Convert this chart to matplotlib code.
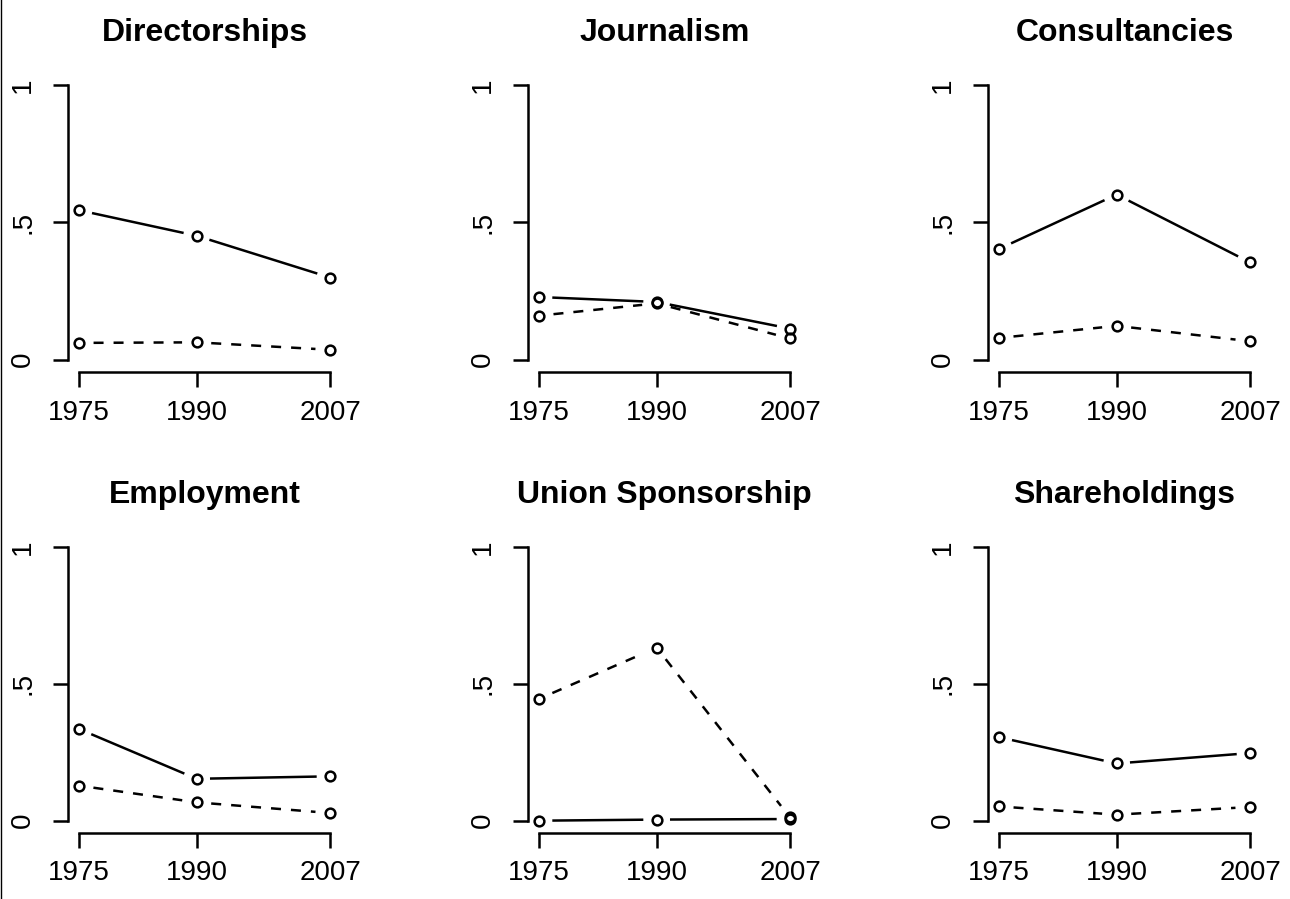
import numpy as np
import matplotlib.pyplot as plt
from matplotlib.lines import Line2D

plt.rcParams['font.family'] = ['Liberation Sans', 'DejaVu Sans']

# data
years = [1975, 1990, 2007]
titles = ["Directorships", "Journalism", "Consultancies",
          "Employment", "Union Sponsorship", "Shareholdings"]
solid = [
    [0.544, 0.451, 0.299],
    [0.228, 0.210, 0.113],
    [0.403, 0.601, 0.354],
    [0.335, 0.153, 0.162],
    [0.000, 0.004, 0.006],
    [0.305, 0.209, 0.247],
]
dashed = [
    [0.061, 0.063, 0.036],
    [0.160, 0.205, 0.077],
    [0.079, 0.123, 0.067],
    [0.128, 0.067, 0.028],
    [0.445, 0.632, 0.012],
    [0.052, 0.022, 0.050],
]
ytick_vals = [0, 0.5, 1]
ytick_labels = ["0", ".5", "1"]

W, H = 1290, 899
fig = plt.figure(figsize=(W / 100, H / 100), dpi=100)

lefts = [68, 528, 988]
rows = [(74, 372), (536, 833)]
GAP_PT = 10.5  # gap left around points like R type="b", in points
LW = 1.8


def gapped(ax, x, y, **kw):
    # draw segments between points, stopping short of each point
    gap = GAP_PT * fig.dpi / 72.0
    pts = ax.transData.transform(np.column_stack([x, y]).astype(float))
    inv = ax.transData.inverted()
    for p0, p1 in zip(pts[:-1], pts[1:]):
        d = p1 - p0
        L = np.hypot(d[0], d[1])
        if L <= 2 * gap:
            continue
        u = d / L
        seg = inv.transform(np.array([p0 + u * gap, p1 - u * gap]))
        ax.plot(seg[:, 0], seg[:, 1], color='black', lw=LW, **kw)


axes = []
for i in range(6):
    r, c = divmod(i, 3)
    top, bot = rows[r]
    ax = fig.add_axes([lefts[c] / W, 1 - bot / H, 273 / W, (bot - top) / H])
    ax.set_xlim(1973.6, 2008.4)
    ax.set_ylim(-0.045, 1.04)
    ax.set_autoscale_on(False)

    for s in ['top', 'right']:
        ax.spines[s].set_visible(False)
    ax.spines['left'].set_bounds(0, 1)
    ax.spines['bottom'].set_bounds(1975, 2007)
    ax.spines['left'].set_linewidth(LW)
    ax.spines['bottom'].set_linewidth(LW)

    ax.set_xticks(years)
    ax.set_xticklabels([str(y) for y in years])
    ax.set_yticks(ytick_vals)
    ax.set_yticklabels(ytick_labels, rotation=90, va='center')
    ax.tick_params(axis='both', length=10.8, width=LW, labelsize=20)
    ax.tick_params(axis='x', pad=9)
    ax.tick_params(axis='y', pad=12)

    ax.set_title(titles[i], fontsize=23, fontweight='bold', pad=24)
    axes.append(ax)

fig.canvas.draw()

for i, ax in enumerate(axes):
    for vals, ls in [(solid[i], '-'), (dashed[i], (0, (4, 4)))]:
        gapped(ax, years, vals, linestyle=ls)
        ax.plot(years, vals, linestyle='none', marker='o', markersize=7,
                markerfacecolor='none', markeredgecolor='black',
                markeredgewidth=1.8)

fig.add_artist(Line2D([0.0008, 0.0008], [0, 1], color='black', lw=1))

fig.savefig("out.png", dpi=100)
